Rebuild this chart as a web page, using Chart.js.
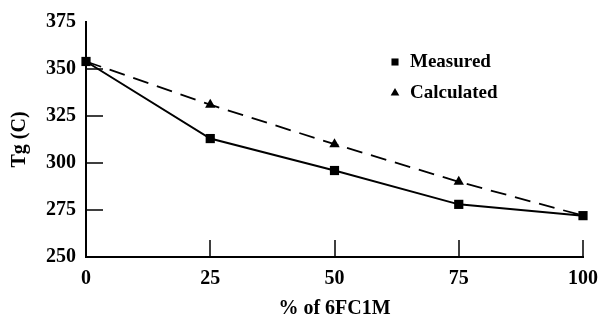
<!DOCTYPE html>
<html>
<head>
<meta charset="utf-8">
<script src="https://cdn.jsdelivr.net/npm/chart.js@4/dist/chart.umd.min.js"></script>
<style>
  html, body { margin: 0; padding: 0; background: #fff; }
  #wrap { width: 601px; height: 321px; }
</style>
</head>
<body>
<div id="wrap"><canvas id="tgChart"></canvas></div>
<script>
// ===== data =====
const pctLabels = [0, 25, 50, 75, 100];
const measured = [354, 313, 296, 278, 272];
const calculated = [354, 331, 310, 290, 272];
const yTicks = [250, 275, 300, 325, 350, 375];

const FONT = "'Liberation Serif', 'DejaVu Serif', serif";

// inward tick marks, like the printed figure
const innerTicks = {
  id: "innerTicks",
  afterDatasetsDraw(chart) {
    const ctx = chart.ctx;
    const x = chart.scales.x;
    const y = chart.scales.y;
    const len = 17;
    ctx.save();
    ctx.strokeStyle = "#000";
    ctx.lineWidth = 1.5;
    ctx.beginPath();
    yTicks.slice(1, -1).forEach((v) => {
      const py = Math.round(y.getPixelForValue(v));
      ctx.moveTo(x.left, py);
      ctx.lineTo(x.left + len, py);
    });
    pctLabels.slice(1).forEach((v) => {
      const px = Math.round(x.getPixelForValue(v));
      ctx.moveTo(px, y.bottom);
      ctx.lineTo(px, y.bottom - len);
    });
    ctx.stroke();
    ctx.restore();
  },
};

// legend sitting inside the plot
const innerLegend = {
  id: "innerLegend",
  afterDraw(chart) {
    const ctx = chart.ctx;
    const area = chart.chartArea;
    const lx = 395;
    const rows = [
      { text: "Measured", style: "rect", y: area.top + 40 },
      { text: "Calculated", style: "triangle", y: area.top + 71 },
    ];
    ctx.save();
    ctx.fillStyle = "#000";
    ctx.font = "bold 19px " + FONT;
    ctx.textBaseline = "middle";
    rows.forEach((r) => {
      Chart.helpers.drawPoint(ctx, { pointStyle: r.style, radius: 5, borderWidth: 0 }, lx, r.y);
      ctx.fillStyle = "#000";
      ctx.fillText(r.text, lx + 15, r.y);
    });
    ctx.restore();
  },
};

new Chart(document.getElementById("tgChart"), {
  type: "line",
  data: {
    datasets: [
      {
        label: "Measured",
        data: pctLabels.map((p, i) => ({ x: p, y: measured[i] })),
        borderColor: "#000",
        backgroundColor: "#000",
        borderWidth: 2,
        pointStyle: "rect",
        pointRadius: 6.5,
        pointBorderWidth: 0,
        tension: 0,
        clip: false,
      },
      {
        label: "Calculated",
        data: pctLabels.map((p, i) => ({ x: p, y: calculated[i] })),
        borderColor: "#000",
        backgroundColor: "#000",
        borderWidth: 1.8,
        borderDash: [16, 9],
        pointStyle: "triangle",
        pointRadius: [0, 6, 6, 6, 0],
        pointBorderWidth: 0,
        tension: 0,
        clip: false,
      },
    ],
  },
  plugins: [innerTicks, innerLegend],
  options: {
    responsive: true,
    maintainAspectRatio: false,
    animation: false,
    layout: { padding: { left: 0, right: 18, top: 22, bottom: 0 } },
    plugins: {
      legend: { display: false },
      tooltip: { enabled: false },
    },
    scales: {
      x: {
        type: "linear",
        min: 0,
        max: 100,
        afterBuildTicks: (s) => { s.ticks = pctLabels.map((v) => ({ value: v })); },
        grid: { display: false, drawTicks: false },
        border: { display: true, color: "#000", width: 2 },
        ticks: { color: "#000", padding: 10, font: { family: FONT, size: 20, weight: "bold" } },
        title: {
          display: true,
          text: "% of 6FC1M",
          color: "#000",
          padding: { top: 9, bottom: 0 },
          font: { family: FONT, size: 20, weight: "bold" },
        },
        afterFit: (s) => { s.height = 64; s.paddingLeft = 0; s.paddingRight = 0; },
      },
      y: {
        min: 250,
        max: 375,
        afterBuildTicks: (s) => { s.ticks = yTicks.map((v) => ({ value: v })); },
        grid: { display: false, drawTicks: false },
        border: { display: true, color: "#000", width: 2 },
        ticks: { color: "#000", padding: 10, font: { family: FONT, size: 20, weight: "bold" } },
        title: {
          display: true,
          text: "Tg (C)",
          color: "#000",
          padding: { top: 8, bottom: 0 },
          font: { family: FONT, size: 20, weight: "bold" },
        },
        afterFit: (s) => { s.width = 86; s.paddingTop = 0; s.paddingBottom = 0; },
      },
    },
  },
});
</script>
</body>
</html>
